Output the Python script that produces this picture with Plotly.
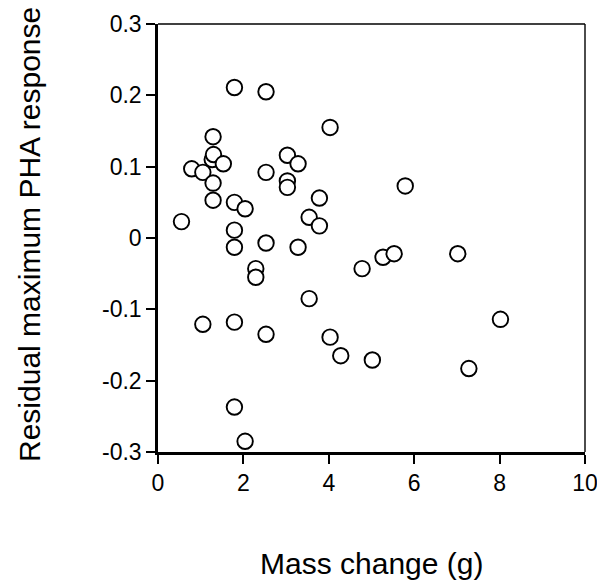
import plotly.graph_objects as go

mass_change = [0.55, 0.79, 1.05, 1.05, 1.29, 1.27, 1.30, 1.53, 1.29, 1.29,
               1.79, 1.79, 1.79, 1.79, 1.79, 1.79, 2.04, 2.04, 2.29, 2.29,
               2.53, 2.53, 2.53, 2.53, 3.03, 3.03, 3.03, 3.28, 3.28, 3.54,
               3.54, 3.78, 3.78, 4.03, 4.03, 4.28, 4.78, 5.02, 5.27, 5.53,
               5.79, 7.02, 7.28, 8.02]
residual_pha = [0.023, 0.097, 0.092, -0.121, 0.142, 0.110, 0.117, 0.104, 0.077, 0.053,
                0.211, 0.050, 0.011, -0.013, -0.118, -0.237, 0.041, -0.285, -0.043, -0.055,
                0.205, 0.092, -0.007, -0.135, 0.116, 0.080, 0.071, 0.104, -0.013, 0.029,
                -0.085, 0.056, 0.017, 0.155, -0.139, -0.165, -0.043, -0.171, -0.027, -0.022,
                0.073, -0.022, -0.183, -0.114]

x_ticks = [0, 2, 4, 6, 8, 10]
y_ticks = [-0.3, -0.2, -0.1, 0, 0.1, 0.2, 0.3]
y_tick_labels = ["-0.3", "-0.2", "-0.1", "0", "0.1", "0.2", "0.3"]
x_title = "Mass change (g)"
y_title = "Residual maximum PHA response"

fig = go.Figure()
fig.add_trace(go.Scatter(
    x=mass_change, y=residual_pha, mode="markers",
    marker=dict(symbol="circle", size=15.5, color="white",
                line=dict(color="black", width=1.9)),
    showlegend=False, cliponaxis=False,
))

font = "Liberation Sans, Arial, sans-serif"
# page body has an 8px default margin, so the figure is 8px smaller than the window
L, R, T, B = 150, 19.5, 15.5, 130.3
fig.update_layout(
    width=597, height=574,
    margin=dict(l=L, r=R, t=T, b=B, autoexpand=False),
    paper_bgcolor="white", plot_bgcolor="white",
    font=dict(family=font, color="black"),
    xaxis=dict(range=[0, 10], tickvals=x_ticks, ticktext=[str(v) for v in x_ticks],
               showgrid=False, zeroline=False, showline=True, linecolor="black",
               linewidth=2.5, ticks="outside", ticklen=9, tickwidth=1.8, tickcolor="black",
               tickfont=dict(size=23, family=font), automargin=False),
    yaxis=dict(range=[-0.3, 0.3], tickvals=y_ticks, ticktext=y_tick_labels,
               showgrid=False, zeroline=False, showline=True, linecolor="black",
               linewidth=2.5, ticks="outside", ticklen=9, tickwidth=1.8, tickcolor="black",
               tickfont=dict(size=23, family=font), automargin=False),
    annotations=[
        dict(text=x_title, xref="paper", yref="paper", x=0.5, y=0,
             xanchor="center", yanchor="middle", yshift=-111, showarrow=False,
             font=dict(size=30, family=font, color="black")),
        dict(text=y_title, xref="paper", yref="paper", x=0, y=0.5,
             xanchor="center", yanchor="middle", xshift=-129, yshift=3, textangle=-90,
             showarrow=False, font=dict(size=30, family=font, color="black")),
    ],
    shapes=[
        dict(type="line", xref="paper", yref="paper", x0=0, x1=1, y0=1, y1=1,
             line=dict(color="black", width=1.4)),
        dict(type="line", xref="paper", yref="paper", x0=1, x1=1, y0=0, y1=1,
             line=dict(color="black", width=1.4)),
    ],
)

fig.write_html("out.html")
